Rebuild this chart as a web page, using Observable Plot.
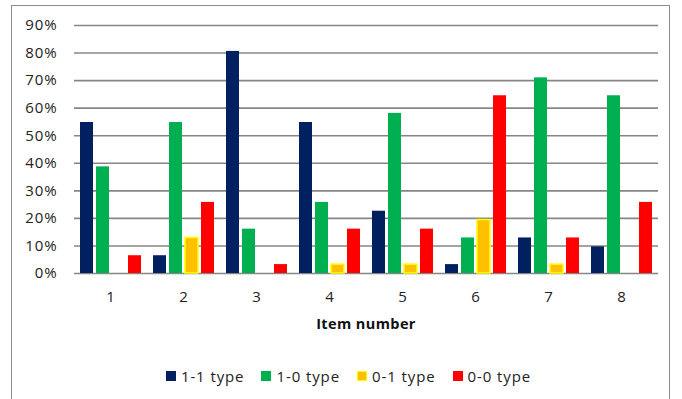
<!DOCTYPE html>
<html>
<head>
<meta charset="utf-8">
<script src="https://cdn.jsdelivr.net/npm/d3@7"></script>
<script src="https://cdn.jsdelivr.net/npm/@observablehq/plot@0.6"></script>
<style>
  html, body { margin: 0; padding: 0; background: #fff; }
  body { width: 682px; height: 399px; position: relative; overflow: hidden;
         font-family: "Open Sans", sans-serif; color: #222; }
  #frame { position: absolute; left: 11px; top: 5px; width: 659px; height: 400px;
           border: 1px solid #8c8c8c; box-sizing: border-box; }
  #chart { position: absolute; left: 0; top: 0; }
  #xlabel { position: absolute; left: 73px; width: 586px; top: 314px; text-align: center;
            font-weight: bold; font-size: 14.5px; letter-spacing: 0.4px; color: #111; }
  #legend { position: absolute; left: 19px; width: 659px; top: 366px; display: flex;
            justify-content: center; gap: 17px; font-size: 15px; letter-spacing: 0.9px; color: #222; }
  #legend .item { display: flex; align-items: center; }
  #legend .sw { width: 10px; height: 10px; margin-right: 5px; box-sizing: border-box; }
</style>
</head>
<body>
<div id="frame"></div>
<div id="chart"></div>
<div id="xlabel">Item number</div>
<div id="legend"></div>
<script>
// Share of each response type per item (percent)
const items = [1, 2, 3, 4, 5, 6, 7, 8];
const types = ["1-1 type", "1-0 type", "0-1 type", "0-0 type"];
const colors = ["#002060", "#00B050", "#FFC000", "#FF0000"];
const v11 = [54.8, 6.45, 80.6, 54.8, 22.6, 3.23, 12.9, 9.68];
const v10 = [38.7, 54.8, 16.1, 25.8, 58.1, 12.9, 71.0, 64.5];
const v01 = [0, 12.9, 0, 3.23, 3.23, 19.4, 3.23, 0];
const v00 = [6.45, 25.8, 3.23, 16.1, 16.1, 64.5, 12.9, 25.8];
const yTicks = [0, 10, 20, 30, 40, 50, 60, 70, 80, 90];

const series = [v11, v10, v01, v00];
const rows = [];
items.forEach((item, i) => {
  types.forEach((type, j) => {
    const value = series[j][i];
    if (value > 0) rows.push({item, type, value});
  });
});

const chart = Plot.plot({
  width: 682,
  height: 340,
  marginLeft: 73,
  marginRight: 23,
  marginTop: 25,
  marginBottom: 67,
  style: {fontFamily: "Open Sans, sans-serif", fontSize: "15px", color: "#222", letterSpacing: "0.9px"},
  fx: {domain: items, padding: 0, axis: null},
  x: {domain: types, paddingInner: 0.2, paddingOuter: 0.34, axis: null},
  y: {domain: [0, 90], axis: null},
  color: {domain: types, range: colors},
  marks: [
    Plot.gridY(yTicks, {stroke: "#868686", strokeOpacity: 1, strokeWidth: 1.6}),
    Plot.axisY(yTicks, {tickSize: 0, tickPadding: 17, tickFormat: d => d + "%", label: null}),
    Plot.barY(rows.filter(d => d.type !== "0-1 type"), {fx: "item", x: "type", y: "value", fill: "type"}),
    Plot.barY(rows.filter(d => d.type === "0-1 type"), {fx: "item", x: "type", y: "value", fill: "#FFC000", stroke: "#FFFF00", strokeWidth: 1.5}),
    Plot.axisFx({anchor: "bottom", tickSize: 0, tickPadding: 18, label: null})
  ]
});
document.getElementById("chart").appendChild(chart);

// Legend
const legend = document.getElementById("legend");
types.forEach((t, i) => {
  const it = document.createElement("div");
  it.className = "item";
  const sw = document.createElement("div");
  sw.className = "sw";
  sw.style.background = colors[i];
  if (t === "0-1 type") sw.style.border = "1.5px solid #FFFF00";
  it.appendChild(sw);
  const lab = document.createElement("span");
  lab.textContent = t;
  it.appendChild(lab);
  legend.appendChild(it);
});
</script>
</body>
</html>
